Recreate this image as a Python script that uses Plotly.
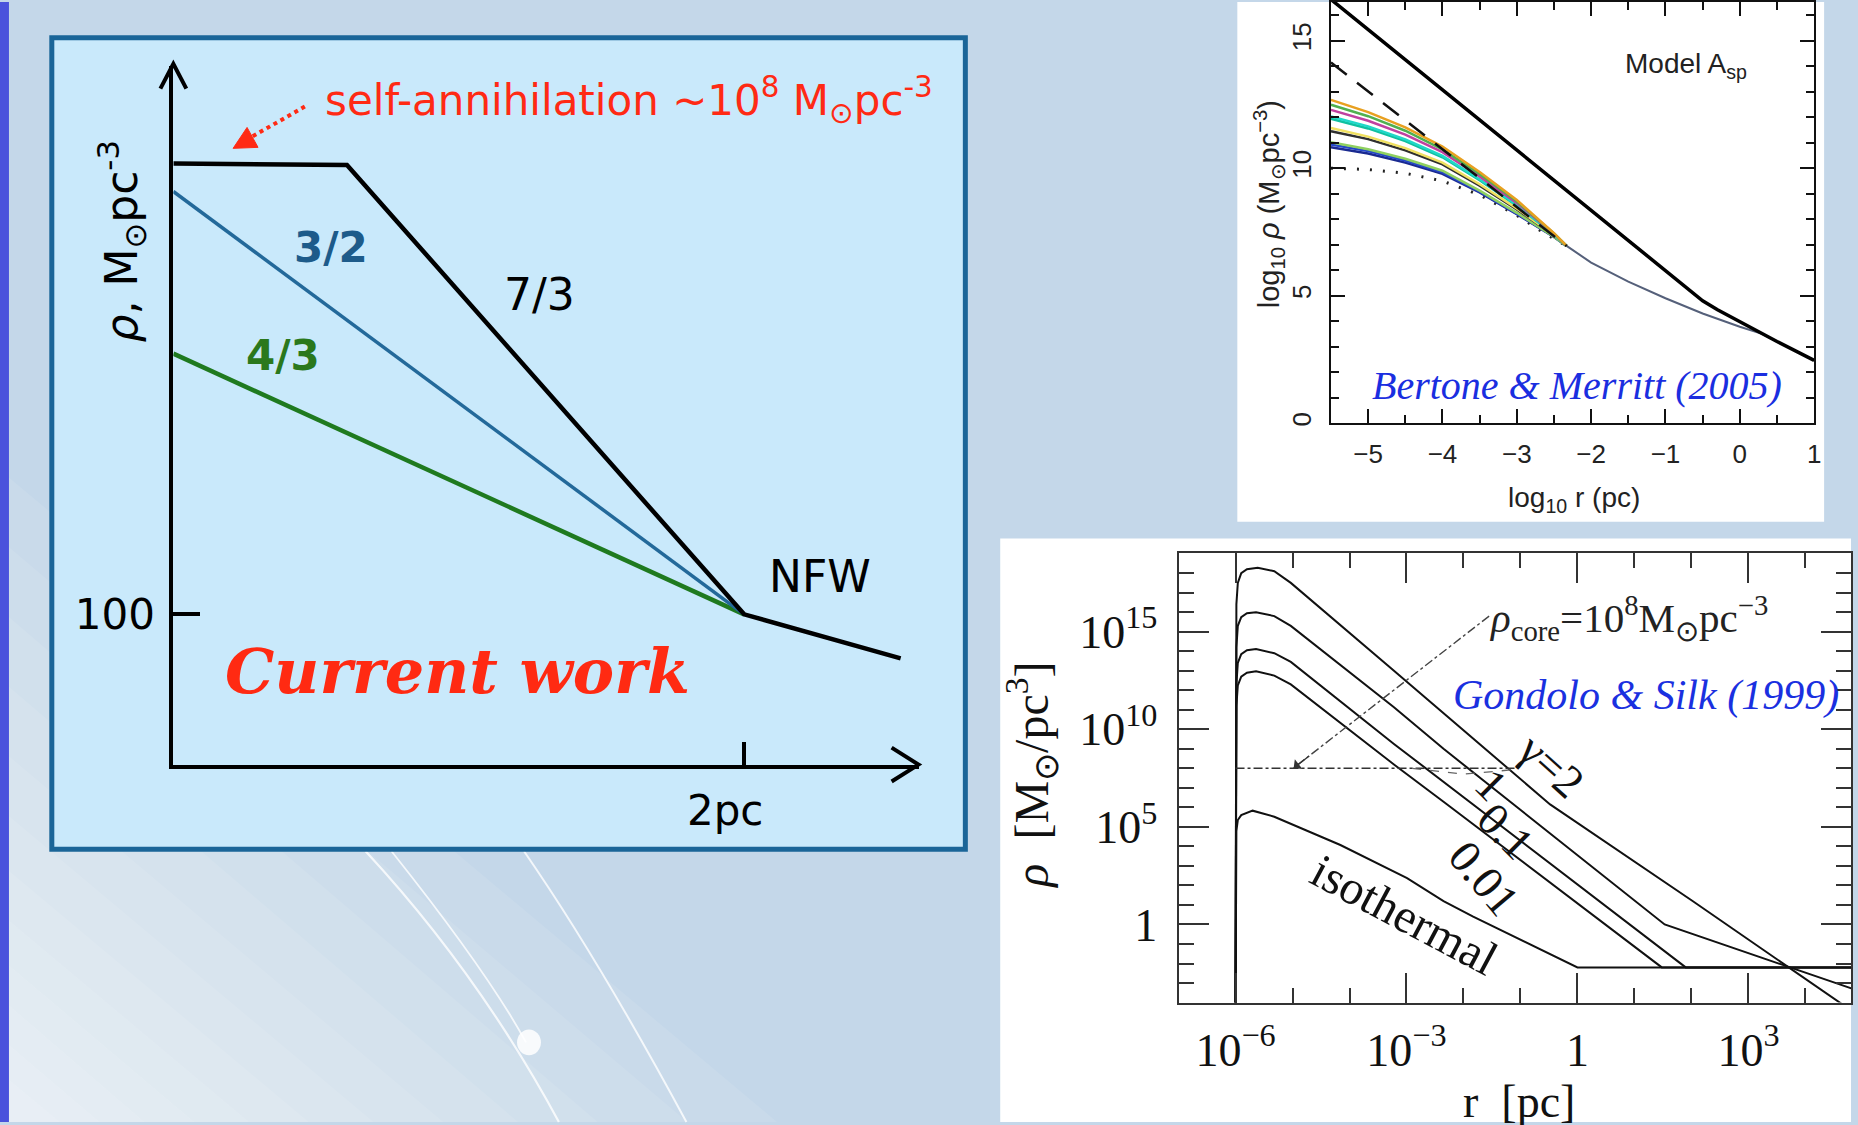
import plotly.graph_objects as go

W, H = 1858, 1125
def fx(px): return px / W
def fy(py): return 1 - py / H

# ---------------- data: left schematic (arbitrary schematic units) ----------------
schem_black_x = [0.0, 2.33, 7.66, 9.76]
schem_black_y = [8.6, 8.58, 2.15, 1.52]
schem_blue_x = [0.0, 7.66]
schem_blue_y = [8.2, 2.15]
schem_green_x = [0.0, 7.66]
schem_green_y = [5.88, 2.15]
schem_ytick = [2.15]
schem_ytext = ["100"]
schem_xtick = [7.66]
schem_xtext = ["2pc"]

# ---------------- data: Bertone & Merritt (2005), log10 r vs log10 rho ----------------
bm_x = [-5.5, -5.0, -4.5, -4.0, -3.5, -3.0, -2.5, -2.33]
bm_orange = [12.68, 12.2, 11.6, 10.85, 9.85, 8.75, 7.45, 6.95]
bm_green = [12.49, 12.04, 11.47, 10.74, 9.77, 8.70, 7.44, 6.95]
bm_magenta = [12.29, 11.86, 11.32, 10.63, 9.68, 8.64, 7.43, 6.95]
bm_cyan = [12.03, 11.64, 11.13, 10.48, 9.57, 8.56, 7.41, 6.95]
bm_teal = [11.94, 11.56, 11.06, 10.43, 9.53, 8.53, 7.40, 6.95]
bm_yellow = [11.58, 11.24, 10.79, 10.22, 9.37, 8.42, 7.38, 6.95]
bm_black = [11.45, 11.14, 10.70, 10.15, 9.31, 8.38, 7.37, 6.95]
bm_lgreen = [11.02, 10.74, 10.37, 9.90, 9.12, 8.25, 7.31, 6.95]
bm_blue = [10.93, 10.67, 10.30, 9.84, 9.08, 8.22, 7.31, 6.95]
bm_dblue = [10.82, 10.58, 10.22, 9.78, 9.05, 8.20, 7.30, 6.95]
bm_colored = [
    (bm_dblue, "#1a2a90"), (bm_blue, "#2446c8"), (bm_lgreen, "#8fd060"),
    (bm_black, "#303030"), (bm_yellow, "#f0e060"), (bm_teal, "#10c0a0"),
    (bm_cyan, "#20d8c8"), (bm_magenta, "#c040a0"), (bm_green, "#50b050"),
    (bm_orange, "#e8a020"),
]
bm_solid_x = [-5.5, -0.7, -0.5, -0.3, 0.0, 0.5, 1.0]
bm_solid_y = [16.62, 5.25, 4.8, 4.45, 3.97, 3.2, 2.46]
bm_dashed_x = [-5.5, -2.33]
bm_dashed_y = [14.15, 6.95]
bm_dotted_x = [-5.5, -5.0, -4.5, -4.0, -3.5, -3.0, -2.6, -2.33]
bm_dotted_y = [10.0, 9.95, 9.8, 9.5, 8.95, 8.15, 7.4, 6.95]
bm_tail_x = [-2.33, -2.0, -1.5, -1.0, -0.5, 0.0, 0.3, 0.5, 1.0]
bm_tail_y = [6.95, 6.3, 5.55, 4.9, 4.3, 3.78, 3.5, 3.2, 2.46]
bm_xticks = [-5, -4, -3, -2, -1, 0, 1]
bm_xtext = ["\u22125", "\u22124", "\u22123", "\u22122", "\u22121", "0", "1"]
bm_xminor = [-5.5, -4.5, -3.5, -2.5, -1.5, -0.5, 0.5]
bm_yticks = [0, 5, 10, 15]
bm_yminor = [1, 2, 3, 4, 6, 7, 8, 9, 11, 12, 13, 14, 16]

# ---------------- data: Gondolo & Silk (1999), log10 r vs log10 rho ----------------
gs_g2_r = [-6.0, -5.997, -5.985, -5.96, -5.9, -5.8, -5.61, -5.32, -5.03, -3.22, -0.48, 2.02, 4.85]
gs_g2_rho = [-4.5, 14.0, 16.4, 17.5, 18.0, 18.2, 18.27, 18.1, 17.5, 13.0, 6.15, 1.2, -4.5]
gs_g1_r = [-6.0, -5.997, -5.985, -5.96, -5.9, -5.8, -5.64, -5.32, -5.03, -3.22, -2.35, 1.53, 4.85]
gs_g1_rho = [-4.5, 11.8, 14.2, 15.3, 15.75, 15.95, 16.0, 15.8, 15.3, 11.13, 9.0, 0.0, -3.32]
gs_g01_r = [-6.0, -5.997, -5.985, -5.96, -5.9, -5.8, -5.64, -5.32, -5.03, -3.22, -2.35, 1.9, 4.85]
gs_g01_rho = [-4.5, 9.9, 12.3, 13.4, 13.85, 14.05, 14.11, 13.9, 13.45, 9.25, 7.31, -2.2, -2.2]
gs_g001_r = [-6.0, -5.997, -5.985, -5.96, -5.9, -5.8, -5.64, -5.32, -5.03, -3.22, -2.35, 1.48, 4.85]
gs_g001_rho = [-4.5, 8.8, 11.2, 12.25, 12.7, 12.9, 12.97, 12.75, 12.3, 8.2, 6.29, -2.2, -2.2]
gs_iso_r = [-6.0, -5.997, -5.985, -5.96, -5.9, -5.7, -5.32, -4.16, -2.99, -2.35, -1.83, 0.0, 4.85]
gs_iso_rho = [-4.5, 4.0, 4.8, 5.35, 5.6, 5.83, 5.52, 4.07, 2.37, 1.2, 0.4, -2.2, -2.2]
gs_core_r = [-6.0, -1.05]
gs_core_rho = [8.0, 8.0]
gs_core2_r = [-2.9, -2.0, -1.05]
gs_core2_rho = [8.0, 7.7, 7.95]
gs_arrow_r = [-1.55, -4.98]
gs_arrow_rho = [15.8, 8.02]
gs_xticks = [-6, -3, 0, 3]
gs_xtext = ["10<sup>\u22126</sup>", "10<sup>\u22123</sup>", "1", "10<sup>3</sup>"]
gs_xminor = [-7, -5, -4, -2, -1, 1, 2, 4]
gs_yticks = [0, 5, 10, 15]
gs_ytext = ["1", "10<sup>5</sup>", "10<sup>10</sup>", "10<sup>15</sup>"]
gs_yminor = [k for k in range(-4, 20) if k % 5 != 0]

fig = go.Figure()

def sc(x, y, xa, ya, color, width, dash=None):
    fig.add_trace(go.Scatter(x=x, y=y, xaxis=xa, yaxis=ya, mode="lines",
                             line=dict(color=color, width=width, dash=dash),
                             showlegend=False, hoverinfo="skip"))

# left schematic
sc(schem_green_x, schem_green_y, "x", "y", "#1f7a1f", 4.5)
sc(schem_blue_x, schem_blue_y, "x", "y", "#23699a", 3.5)
sc(schem_black_x, schem_black_y, "x", "y", "#000000", 4.5)

# Bertone & Merritt
sc(bm_dotted_x, bm_dotted_y, "x2", "y2", "#222", 3, "2px,11px")
for vals, col in bm_colored:
    sc(bm_x, vals, "x2", "y2", col, 2.5)
sc(bm_tail_x, bm_tail_y, "x2", "y2", "#55607a", 2)
sc(bm_dashed_x, bm_dashed_y, "x2", "y2", "#111", 2.5, "20px,13px")
sc(bm_solid_x, bm_solid_y, "x2", "y2", "#000", 3.5)

# Gondolo & Silk
def lg(v): return [10 ** t for t in v]
for rr, yy in [(gs_g2_r, gs_g2_rho), (gs_g1_r, gs_g1_rho), (gs_g01_r, gs_g01_rho),
               (gs_g001_r, gs_g001_rho), (gs_iso_r, gs_iso_rho)]:
    sc(lg(rr), lg(yy), "x3", "y3", "#111", 2)
sc(lg(gs_core_r), lg(gs_core_rho), "x3", "y3", "#333", 1.6, "dashdot")
sc(lg(gs_core2_r), lg(gs_core2_rho), "x3", "y3", "#666", 1.3, "dash")
sc(lg(gs_arrow_r), lg(gs_arrow_rho), "x3", "y3", "#444", 1.4, "dashdot")

# ---------------- background shapes ----------------
def P(pts, close=True):
    s = "M " + " L ".join(f"{fx(x):.5f},{fy(y):.5f}" for x, y in pts)
    return s + (" Z" if close else "")

def Q(p0, c, p1):
    return (f"M {fx(p0[0]):.5f},{fy(p0[1]):.5f} Q {fx(c[0]):.5f},{fy(c[1]):.5f} "
            f"{fx(p1[0]):.5f},{fy(p1[1]):.5f}")

shapes = []
for (yt, xr) in [(470, 780), (540, 690), (610, 600), (680, 520), (750, 445), (810, 375),
                 (865, 310), (915, 250), (960, 195), (1000, 145), (1040, 100), (1075, 60)]:
    shapes.append(dict(type="path", xref="paper", yref="paper", layer="below",
                       path=P([(0, H), (0, yt), (xr, H)]),
                       fillcolor="rgba(255,255,255,0.085)", line=dict(width=0)))
for p0, c, p1, w in [((367, 853), (480, 975), (561, 1125), 2.2),
                     ((393, 853), (490, 975), (528, 1045), 1.8),
                     ((526, 853), (600, 960), (689, 1125), 2.0)]:
    shapes.append(dict(type="path", xref="paper", yref="paper", layer="below",
                       path=Q(p0, c, p1),
                       line=dict(color="rgba(255,255,255,0.8)", width=w)))
shapes.append(dict(type="circle", xref="paper", yref="paper", layer="below",
                   x0=fx(519), x1=fx(543), y0=fy(1058), y1=fy(1032),
                   fillcolor="rgba(255,255,255,0.85)", line=dict(width=0)))
shapes.append(dict(type="rect", xref="paper", yref="paper", layer="below",
                   x0=0, x1=fx(9), y0=0, y1=1, fillcolor="#4a52dc", line=dict(width=0)))
shapes.append(dict(type="rect", xref="paper", yref="paper", layer="below",
                   x0=fx(52), x1=fx(969), y0=fy(851), y1=fy(36),
                   fillcolor="#c9e9fb", line=dict(color="#1a6598", width=5)))
shapes.append(dict(type="rect", xref="paper", yref="paper", layer="below",
                   x0=fx(1242), x1=fx(1831), y0=fy(522), y1=1,
                   fillcolor="white", line=dict(width=0)))
shapes.append(dict(type="rect", xref="paper", yref="paper", layer="below",
                   x0=fx(1004), x1=1, y0=0, y1=fy(539),
                   fillcolor="white", line=dict(width=0)))
# axis arrowheads of schematic
shapes.append(dict(type="path", xref="paper", yref="paper",
                   path=P([(161, 87), (174, 62), (187, 87)], close=False),
                   line=dict(color="black", width=4)))
shapes.append(dict(type="path", xref="paper", yref="paper",
                   path=P([(895, 749), (922, 766), (895, 783)], close=False),
                   line=dict(color="black", width=4)))
# red dotted arrow
shapes.append(dict(type="line", xref="paper", yref="paper",
                   x0=fx(306), y0=fy(105), x1=fx(250), y1=fy(137),
                   line=dict(color="#ff2a14", width=4, dash="dot")))
shapes.append(dict(type="path", xref="paper", yref="paper",
                   path=P([(234, 147), (259, 146), (248, 126)]),
                   fillcolor="#ff2a14", line=dict(color="#ff2a14", width=1)))

# ---------------- annotations ----------------
ann = []
def T(text, x, y, size, color="black", family="DejaVu Sans", angle=0, xanchor="center"):
    ann.append(dict(text=text, x=fx(x), y=fy(y), xref="paper", yref="paper",
                    showarrow=False, textangle=angle, xanchor=xanchor, yanchor="middle",
                    font=dict(size=size, color=color, family=family)))

T("self-annihilation ~10<sup>8</sup> M<sub>\u2299</sub>pc<sup>-3</sup>", 324, 98, 42, "#ff2a14", xanchor="left")
T("<i>\u03c1</i>, M<sub>\u2299</sub>pc<sup>-3</sup>", 122, 240, 44, angle=-90)
T("<b>3/2</b>", 332, 247, 42, "#1d5b8a")
T("7/3", 542, 294, 44)
T("<b>4/3</b>", 284, 355, 42, "#2a781c")
T("NFW", 823, 577, 44)
T("<b><i>Current work</i></b>", 459, 672, 62, "#ff2a12", "DejaVu Serif")

T("Model A<sub>sp</sub>", 1692, 64, 28, "#222", "Liberation Sans")
T("log<sub>10</sub> r (pc)", 1580, 500, 28, "#222", "Liberation Sans")
T("log<sub>10</sub> <i>\u03c1</i> (M<sub>\u2299</sub>pc<sup>\u22123</sup>)", 1274, 203, 29, "#222", "Liberation Sans", angle=-90)
T("<i>Bertone &amp; Merritt (2005)</i>", 1583, 385, 40, "#1a2ee0", "Liberation Serif")

T("<i>\u03c1</i><sub>core</sub>=10<sup>8</sup>M<sub>\u2299</sub>pc<sup>\u22123</sup>", 1493, 619, 41, "#222", "Liberation Serif", xanchor="left")
T("<i>Gondolo &amp; Silk (1999)</i>", 1652, 697, 42, "#1a30e0", "Liberation Serif")
T("\u03b3=2", 1557, 767, 46, "#111", "Liberation Serif", angle=42)
T("1", 1497, 786, 46, "#111", "Liberation Serif", angle=45)
T("0.1", 1512, 833, 46, "#111", "Liberation Serif", angle=45)
T("0.01", 1490, 880, 46, "#111", "Liberation Serif", angle=50)
T("isothermal", 1410, 917, 48, "#111", "Liberation Serif", angle=28)
T("<i>\u03c1</i>  [M<sub>\u2299</sub>/pc<sup>3</sup>]", 1035, 777, 48, "#111", "Liberation Serif", angle=-90)
T("r  [pc]", 1525, 1104, 46, "#111", "Liberation Serif")

# arrowhead of the rho_core pointer
ann.append(dict(x=-4.98, y=8.02, xref="x3", yref="y3", text="", showarrow=True,
                ax=17, ay=-13, arrowhead=1, arrowsize=1.6, arrowwidth=1.3,
                arrowcolor="#333", standoff=0))

bm_font = dict(family="Liberation Sans", size=26, color="#222")
gs_font = dict(family="Liberation Serif", size=46, color="#111")
sk_font = dict(family="DejaVu Sans", size=42, color="black")

fig.update_layout(
    width=W, height=H, margin=dict(l=0, r=0, t=0, b=0),
    paper_bgcolor="#c4d7e9", plot_bgcolor="rgba(0,0,0,0)",
    shapes=shapes, annotations=ann, showlegend=False,
    xaxis=dict(domain=[fx(174), fx(922)], anchor="y", range=[0, 10],
               showline=True, linecolor="black", linewidth=4, showgrid=False, zeroline=False,
               ticks="inside", tickvals=schem_xtick, ticktext=schem_xtext,
               ticklen=23, tickwidth=4, tickcolor="black", ticklabelshift=-19,
               ticklabelstandoff=6, tickfont=sk_font),
    yaxis=dict(domain=[fy(766), fy(64)], anchor="x", range=[0, 10],
               showline=True, linecolor="black", linewidth=4, showgrid=False, zeroline=False,
               ticks="inside", tickvals=schem_ytick, ticktext=schem_ytext,
               ticklen=27, tickwidth=4, tickcolor="black", ticklabelstandoff=6,
               tickfont=sk_font),
    xaxis2=dict(domain=[fx(1336), fx(1821)], anchor="y2", range=[-5.5, 1],
                showline=True, linecolor="#111", linewidth=2, mirror="allticks",
                showgrid=False, zeroline=False, ticks="inside",
                tickvals=bm_xticks, ticktext=bm_xtext, ticklen=14, tickwidth=1.5,
                tickcolor="#111", ticklabelstandoff=7, tickfont=bm_font,
                minor=dict(tickmode="array", tickvals=bm_xminor, ticks="inside",
                           ticklen=8, tickwidth=1.5, tickcolor="#111")),
    yaxis2=dict(domain=[fy(423), 1], anchor="x2", range=[0, 16.52],
                showline=True, linecolor="#111", linewidth=2, mirror="allticks",
                showgrid=False, zeroline=False, ticks="inside",
                tickvals=bm_yticks, ticktext=[str(v) for v in bm_yticks],
                tickangle=-90, ticklen=14, tickwidth=1.5, tickcolor="#111",
                ticklabelstandoff=8, tickfont=bm_font,
                minor=dict(tickmode="array", tickvals=bm_yminor, ticks="inside",
                           ticklen=8, tickwidth=1.5, tickcolor="#111")),
    xaxis3=dict(type="log", domain=[fx(1183), 1], anchor="y3", range=[-7, 4.8],
                showline=True, linecolor="#333", linewidth=2, mirror="allticks",
                showgrid=False, zeroline=False, ticks="inside",
                tickvals=[10 ** v for v in gs_xticks], ticktext=gs_xtext,
                ticklen=30, tickwidth=1.5, tickcolor="#333", ticklabelstandoff=6,
                tickfont=gs_font,
                minor=dict(tickmode="array", tickvals=[10 ** v for v in gs_xminor],
                           ticks="inside", ticklen=15, tickwidth=1.5, tickcolor="#333")),
    yaxis3=dict(type="log", domain=[fy(1005), fy(553.5)], anchor="x3", range=[-4, 19.03],
                showline=True, linecolor="#333", linewidth=2, mirror="allticks",
                showgrid=False, zeroline=False, ticks="inside",
                tickvals=[10 ** v for v in gs_yticks], ticktext=gs_ytext,
                ticklen=30, tickwidth=1.5, tickcolor="#333", ticklabelstandoff=10,
                tickfont=gs_font,
                minor=dict(tickmode="array", tickvals=[10 ** v for v in gs_yminor],
                           ticks="inside", ticklen=15, tickwidth=1.5, tickcolor="#333")),
)

fig.write_html("out.html")
